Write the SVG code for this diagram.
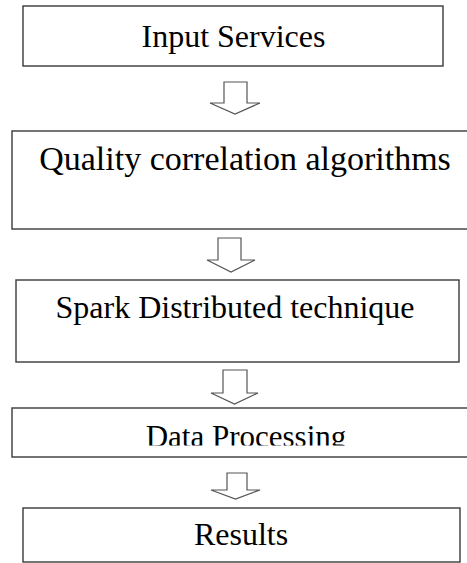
<svg xmlns="http://www.w3.org/2000/svg" width="467" height="563" viewBox="0 0 467 563">
<style>
.box{fill:#fff;stroke:#3a3a3a;stroke-width:1.4}
.arr{fill:#fff;stroke:#555;stroke-width:1.2;stroke-linejoin:miter}
.t{font-family:"Liberation Serif","Times New Roman",serif;font-size:32px;fill:#000;text-anchor:middle}
</style>
<defs>
<clipPath id="clipDP"><rect x="0" y="408" width="467" height="37.5"/></clipPath>
</defs>
<rect width="467" height="563" fill="#fff"/>
<g id="connectors">
<path class="arr" d="M224,82 H247 V103 H260 L235,114 L210,103 H224 Z"/>
<path class="arr" d="M218,238 H241 V260 H255 L231,272 L207,260 H218 Z"/>
<path class="arr" d="M223,370 H247 V393 H258 L234.5,404 L211,393 H223 Z"/>
<path class="arr" d="M227,473 H247 V490 H260 L235.5,499 L211,490 H227 Z"/>
</g>
<g id="input-services">
<rect class="box" x="23" y="6" width="420" height="60"/>
<text class="t" x="233.5" y="47">Input Services</text>
</g>
<g id="quality-correlation">
<rect class="box" x="12" y="131" width="460" height="98"/>
<text class="t" x="245" y="170" style="font-size:34px">Quality correlation algorithms</text>
</g>
<g id="spark-distributed">
<rect class="box" x="16" y="280" width="443" height="82"/>
<text class="t" x="235" y="318">Spark Distributed technique</text>
</g>
<g id="data-processing">
<rect class="box" x="12" y="408" width="460" height="49"/>
<text class="t" x="246" y="447" style="font-size:31px" clip-path="url(#clipDP)">Data Processing</text>
</g>
<g id="results">
<rect class="box" x="23" y="508" width="437" height="54"/>
<text class="t" x="241" y="545">Results</text>
</g>
</svg>
